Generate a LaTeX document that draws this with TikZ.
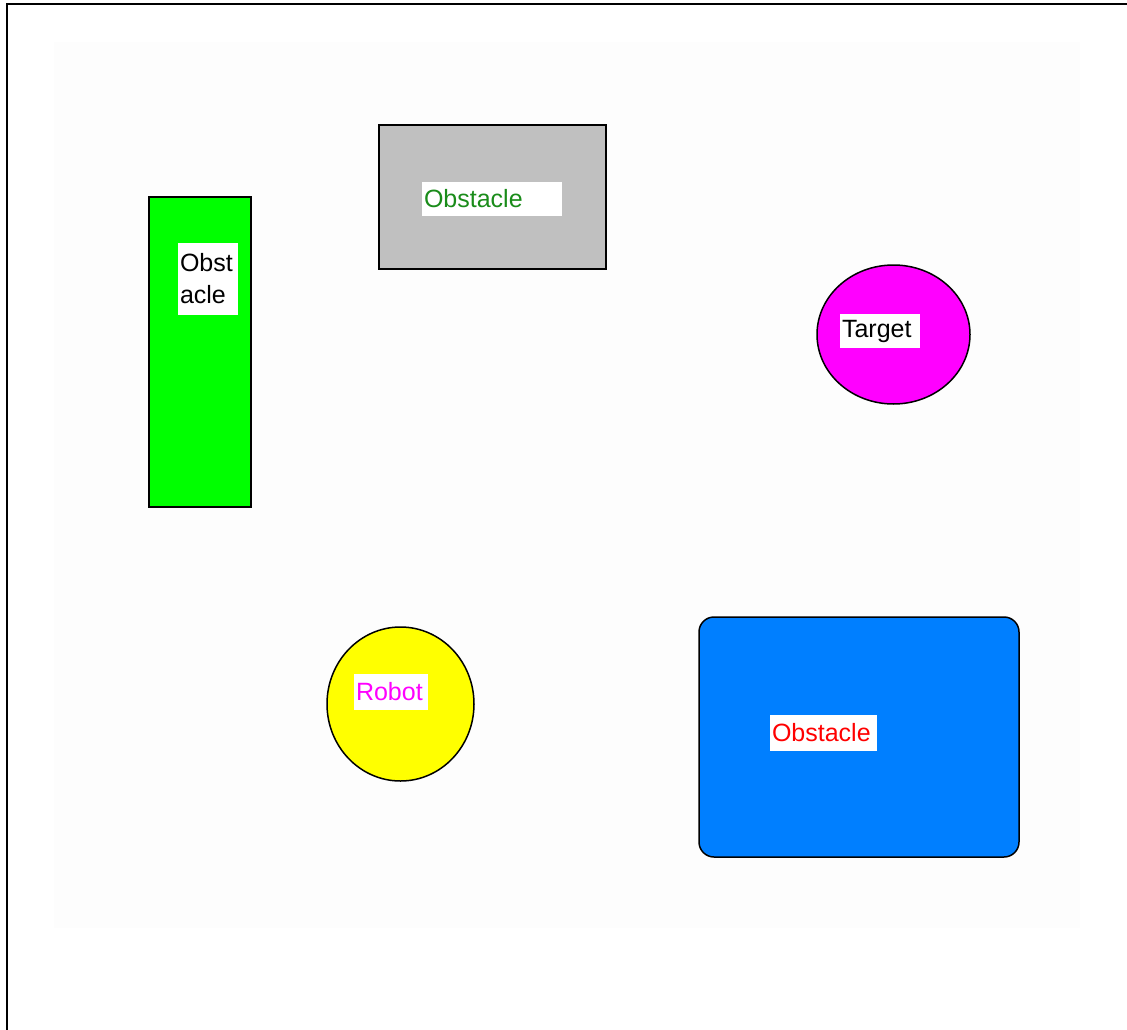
\documentclass[tikz,border=0pt]{standalone}
\usepackage{fontspec}
\setmainfont{Liberation Sans}
\usetikzlibrary{shapes.geometric}
\definecolor{faint}{HTML}{FDFDFD}
\definecolor{obsgreen}{HTML}{00FF00}
\definecolor{obsgray}{HTML}{C0C0C0}
\definecolor{tgtmag}{HTML}{FF00FF}
\definecolor{robyel}{HTML}{FFFF00}
\definecolor{obsblue}{HTML}{007FFF}
\definecolor{txtgreen}{HTML}{1A8C1A}
\definecolor{txtred}{HTML}{FF0000}
\begin{document}
\begin{tikzpicture}[x=1pt,y=-1pt,
  shapebox/.style={draw=black,line width=1.5pt,inner sep=0pt,outer sep=0pt},
  lbl/.style={fill=white,inner xsep=2pt,inner ysep=0pt,outer sep=0pt,anchor=west,align=left,
    font=\fontsize{25}{32}\selectfont}]
\useasboundingbox (0,0) rectangle (1127,1030);
\fill[white] (0,0) rectangle (1127,1030);
\fill[faint] (54,42) rectangle (1080,928);
\draw[line width=2pt] (7,1032) -- (7,4) -- (1130,4);
% green obstacle
\node[shapebox,fill=obsgreen,minimum width=102pt,minimum height=310pt] (green) at (200,352) {};
\node[lbl,text width=56pt,minimum height=72pt] (greenlbl) at (178,279) {Obst\\acle};
% gray obstacle
\node[shapebox,fill=obsgray,minimum width=227pt,minimum height=144pt] (gray) at (492.5,197) {};
\node[lbl,text width=136pt,minimum height=34pt,text=txtgreen] (graylbl) at (422,199) {Obstacle};
% target
\node[shapebox,ellipse,fill=tgtmag,minimum width=153pt,minimum height=139pt] (target) at (893.5,334.5) {};
\node[lbl,text width=76pt,minimum height=34pt] (targetlbl) at (840,331) {Target};
% robot
\node[shapebox,ellipse,fill=robyel,minimum width=147pt,minimum height=154pt] (robot) at (400.5,704) {};
\node[lbl,text width=70pt,minimum height=36pt,text=tgtmag] (robotlbl) at (354,692) {Robot};
% blue obstacle
\node[shapebox,fill=obsblue,rounded corners=15pt,minimum width=320pt,minimum height=240pt] (blue) at (859,737) {};
\node[lbl,text width=103pt,minimum height=36pt,text=txtred] (bluelbl) at (770,733) {Obstacle};
\end{tikzpicture}
\end{document}
